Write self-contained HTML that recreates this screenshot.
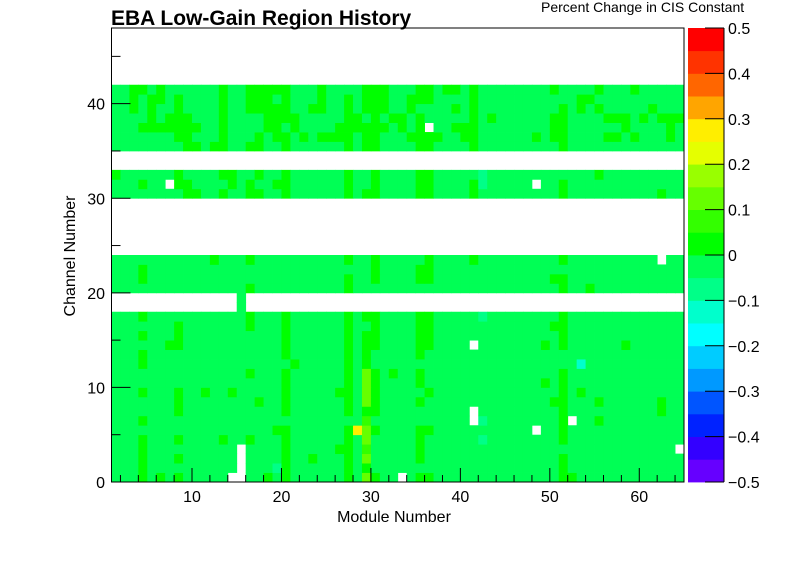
<!DOCTYPE html>
<html>
<head>
<meta charset="utf-8">
<style>
html,body{margin:0;padding:0;background:#fff;}
svg{display:block;font-family:"Liberation Sans",sans-serif;}
</style>
</head>
<body>
<svg id="chart" width="796" height="574" viewBox="0 0 796 574" xmlns="http://www.w3.org/2000/svg">
  <rect x="0" y="0" width="796" height="574" fill="#fff"/>
  <text x="111" y="25" font-size="21" font-weight="bold" fill="#000">EBA Low-Gain Region History</text>
  <text x="541" y="12" font-size="14" fill="#000">Percent Change in CIS Constant</text>
  <g id="cells"></g>
  <g id="axes"></g>
  <g id="cbar"></g>
  <text x="394" y="522" font-size="16" text-anchor="middle" fill="#000">Module Number</text>
  <text transform="translate(75,256) rotate(-90)" font-size="16" text-anchor="middle" fill="#000">Channel Number</text>
</svg>
<script>
// ---- data ----
// value codes per cell: b base, g slight +, h, y, Y, t, c, '.' = no data
const codeValues = {b:-0.02, g:0.02, h:0.07, y:0.12, Y:0.27, t:-0.07, c:-0.12};
const moduleRange = [1, 65];
const channelRange = [0, 48];
const xTicks = [10, 20, 30, 40, 50, 60];
const yTicks = [0, 10, 20, 30, 40];
const zTicks = [-0.5,-0.4,-0.3,-0.2,-0.1,0,0.1,0.2,0.3,0.4,0.5];
const zTickLabels = ["\u22120.5","\u22120.4","\u22120.3","\u22120.2","\u22120.1","0","0.1","0.2","0.3","0.4","0.5"];
const palette = ["#6600ff","#3300ff","#0022ff","#0055ff","#0099ff","#00ccff","#00ffff","#00ffcc","#00ff88","#00ff55",
                 "#00ff00","#33ff00","#66ff00","#99ff00","#e5ff00","#ffee00","#ffa500","#ff6600","#ff3300","#ff0000"];
// index = channel number (0..47)
const channelRows = [
 "bbbgbgbg bbbbb..b bgbgbbbb bbgbygbb .bggbbbb bbbbbbbb bbggbbbb bbbbbbbb", //0
 "bbbgbbbb bbbbbb.b bbtgbbbb bbgbgbbb bbbbbbbb bbbbbbbb bbgbbbbb bbbbbbbb", //1
 "bbbgbbbg bbbbbb.b bbbgbbgb bbgbybbb bbgbbbbb bbbbbbbb bbgbbbbb bbbbbbbb", //2
 "bbbgbbbb bbbbbb.b bbbgbbbb bggbhbbb bbgbbbbb bbbbbbbb bbbbbbbb bbbbbbb.", //3
 "bbbgbbbg bbbbgbbg bbbgbbbb bbgbybbb bbgbbbbb btbbbbbb bbgbbbbb bbbbbbbb", //4
 "bbbbbbbb bbbbbbbb bbggbbbb bbgYygbb bbggbbbb bbbbbbb. bbgbbbbb bbbbbbbb", //5
 "bbbgbbbb bbbbbbbb bbbbbbbb bbbbhbbb bbbbbbbb .tbbbbbb bbg.bbgb bbbbbbbb", //6
 "bbbbbbbg bbbbbbbb bbbgbbbb bbgbggbb bbbbbbbb .bbbbbbb bbgbbbbb bbbbbgbb", //7
 "bbbbbbbg bbbbbbbb gbbgbbbb bbgbygbb bbgbbbbb bbbbbbbb bggbbbgb bbbbbgbb", //8
 "bbbgbbbg bbgbbgbb bbbgbbbb bggbygbb bbbgbbbb bbbbbbbb bbgbgbbb bbbbbbbb", //9
 "bbbbbbbb bbbbbbbb bbbgbbbb bbgbygbb bbgbbbbb bbbbbbbb gbgbbbbb bbbbbbbb", //10
 "bbbbbbbb bbbbbbbg bbbgbbbb bbgbygbg bbgbbbbb bbbbbbbb bbgbbbbb bbbbbbbb", //11
 "bbbgbbbb bbbbbbbb bbbbgbbb bbgbgbbb bbbbbbbb bbbbbbbb bbbbcbbb bbbbbbbb", //12
 "bbbgbbbb bbbbbbbb bbbgbbbb bbgbgbbb bbgbbbbb bbbbbbbb bbbbbbbb bbbbbbbb", //13
 "bbbbbbgg bbbbbbbb bbbgbbbb bbgbggbb bbggbbbb .bbbbbbb gbgbbbbb bgbbbbbb", //14
 "bbbgbbbg bbbbbbbb bbbgbbbb bbgbggbb bbggbbbb bbbbbbbb bbgbbbbb bbbbbbbb", //15
 "bbbbbbbg bbbbbbbg bbbgbbbb bbgbbgbb bbggbbbb bbbbbbbb bggbbbbb bbbbbbbb", //16
 "bbbgbbbb bbbbbbbg bbbgbbbb bbgbggbb bbggbbbb btbbbbbb bbgbbbbb bbbbbbbb", //17
 "........ ......b. ........ ........ ........ ........ ........ ........", //18
 "........ ......b. ........ ........ ........ ........ ........ ........", //19
 "bbbbbbbb bbbbbbbg bbbbbbbb bbgbbbbb bbbbbbbb bbbbbbbb bbgbbgbb bbbbbbbb", //20
 "bbbgbbbb bbbbbbbb bbbbbbbb bbgbbgbb bbggbbbb bbbbbbbb bggbbbbb bbbbbbbb", //21
 "bbbgbbbb bbbbbbbb bbbbbbbb bbbbbgbb bbggbbbb bbbbbbbb bbbbbbbb bbbbbbbb", //22
 "bbbbbbbb bbbgbbbg bbbbbbbb bbgbbgbb bbbgbbbb gbbbbbbb bbgbbbbb bbbbb.bb", //23
 "........ ........ ........ ........ ........ ........ ........ ........", //24
 "........ ........ ........ ........ ........ ........ ........ ........", //25
 "........ ........ ........ ........ ........ ........ ........ ........", //26
 "........ ........ ........ ........ ........ ........ ........ ........", //27
 "........ ........ ........ ........ ........ ........ ........ ........", //28
 "........ ........ ........ ........ ........ ........ ........ ........", //29
 "bbbbbbbb ggbbgbbg gbbgbbbb bbgbggbb bbggbbbb gbbbbbbb bbgbbbbb bbbbbgbb", //30
 "bbbgbb.g gbbbbgbg bbggbbbb bbgbbgbb bbggbbbb gtbbbbb. bbgbbbbb bbbbbbbb", //31
 "gbbbbbbg bbbbggbb gbbgbbbb bbgbbgbb bbggbbbb btbbbbbb bbbbbbgb bbbbbbbb", //32
 "........ ........ ........ ........ ........ ........ ........ ........", //33
 "........ ........ ........ ........ ........ ........ ........ ........", //34
 "bbbbbbbb ggbggbbg gbbgbbbb bbgbggbb bbggbbbb gbbbbbbb bbgbbbbb bbbbbbbb", //35
 "bbbbbbbg gbbbgbbb gbggbgbg gggbggbb bggggbbg gbbbbbbg bggbbbbg gbgbbbgb", //36
 "bbbggggg ggbbgbbb bggbgbbb bggggggb gbg.bbgg gbbbbbbb bggbbbbb bgbbbbgb", //37
 "bbbbgbgg gbbbgbbb bggggbbb bbggbgbg gbgbbbbb gbgbbbbb bggbbbbg ggbgbggg", //38
 "bbgbgbbg bbbbgbbg ggggbbgg bbgbgggb bgbbbbgb gbbbbbbb bbgbgbgb bbbbgbbb", //39
 "bbgbggbg bbbbgbbg ggbgbbbg bbgbgggb bgggbbbb gbbbbbbb bbbbggbb bbbbbbbb", //40
 "bbggbgbb bbbbgbbg ggggbbbg bbbbgggb bbggbggb gbbbbbbb bgbbbbgb bbgbbbbb", //41
 "........ ........ ........ ........ ........ ........ ........ ........", //42
 "........ ........ ........ ........ ........ ........ ........ ........", //43
 "........ ........ ........ ........ ........ ........ ........ ........", //44
 "........ ........ ........ ........ ........ ........ ........ ........", //45
 "........ ........ ........ ........ ........ ........ ........ ........", //46
 "........ ........ ........ ........ ........ ........ ........ ........"  //47
];

// ---- layout ----
const PX0 = 111.5, PX1 = 684, PY0 = 28, PY1 = 482;
const SVGNS = "http://www.w3.org/2000/svg";
function xScale(m){ return PX0 + (m - moduleRange[0]) / (moduleRange[1] - moduleRange[0]) * (PX1 - PX0); }
function yScale(c){ return PY1 - (c - channelRange[0]) / (channelRange[1] - channelRange[0]) * (PY1 - PY0); }
function zScale(v){ return PY1 - (v + 0.5) / 1.0 * (PY1 - PY0); }
function colorFor(v){ let i = Math.floor((v + 0.5) / 0.05); i = Math.max(0, Math.min(palette.length - 1, i)); return palette[i]; }
function mk(tag, attrs){ const e = document.createElementNS(SVGNS, tag); for (const k in attrs) e.setAttribute(k, attrs[k]); return e; }

const cellsG = document.getElementById('cells');
channelRows.forEach((rowStr, ch) => {
  const row = rowStr.replace(/ /g, '');
  for (let i = 0; i < row.length; i++) {
    const code = row[i];
    if (code === '.') continue;
    const v = codeValues[code];
    const m = moduleRange[0] + i;
    const x = xScale(m), x2 = xScale(m + 1);
    const y = yScale(ch + 1), y2 = yScale(ch);
    const r = mk('rect', {x: x.toFixed(2), y: y.toFixed(2), width: (x2 - x + 0.4).toFixed(2), height: (y2 - y + 0.4).toFixed(2), fill: colorFor(v)});
    
    
    cellsG.appendChild(r);
  }
});

// ---- axes ----
const axesG = document.getElementById('axes');
const frame = mk('rect', {x: PX0, y: PY0, width: PX1 - PX0, height: PY1 - PY0, fill: 'none', stroke: '#000', 'stroke-width': 1});


axesG.appendChild(frame);

for (let m = 2; m <= 64; m += 2) {
  const major = m % 10 === 0;
  const x = xScale(m);
  const t = mk('line', {x1: x, x2: x, y1: PY1, y2: PY1 - (major ? 14 : 7), stroke: '#000', 'stroke-width': 1});
  
  
  axesG.appendChild(t);
}
xTicks.forEach(v => {
  const l = mk('text', {x: xScale(v), y: 502, 'font-size': 16, 'text-anchor': 'middle', fill: '#000'});
  l.textContent = String(v);
  
  
  axesG.appendChild(l);
});
for (let c = 0; c <= 45; c += 5) {
  const major = c % 10 === 0;
  const y = yScale(c);
  const t = mk('line', {x1: PX0, x2: PX0 + (major ? 19 : 9), y1: y, y2: y, stroke: '#000', 'stroke-width': 1});
  
  
  axesG.appendChild(t);
}
yTicks.forEach(v => {
  const l = mk('text', {x: 105, y: yScale(v) + 6, 'font-size': 16, 'text-anchor': 'end', fill: '#000'});
  l.textContent = String(v);
  
  
  axesG.appendChild(l);
});

// ---- color bar ----
const cbG = document.getElementById('cbar');
palette.forEach((col, i) => {
  const v0 = -0.5 + i * 0.05, v1 = v0 + 0.05;
  const r = mk('rect', {x: 688, y: zScale(v1), width: 36, height: zScale(v0) - zScale(v1) + 0.4, fill: col});
  
  
  cbG.appendChild(r);
});
const cbAxis = mk('line', {x1: 724, x2: 724, y1: PY0, y2: PY1, stroke: '#000', 'stroke-width': 1});


cbG.appendChild(cbAxis);
zTicks.forEach((v, i) => {
  const y = zScale(v);
  const t = mk('line', {x1: 705, x2: 724, y1: y, y2: y, stroke: '#000', 'stroke-width': 1});
  
  
  cbG.appendChild(t);
  const l = mk('text', {x: 728, y: y + 6, 'font-size': 16, fill: '#000'});
  l.textContent = zTickLabels[i];
  
  
  cbG.appendChild(l);
});
</script>
</body>
</html>
